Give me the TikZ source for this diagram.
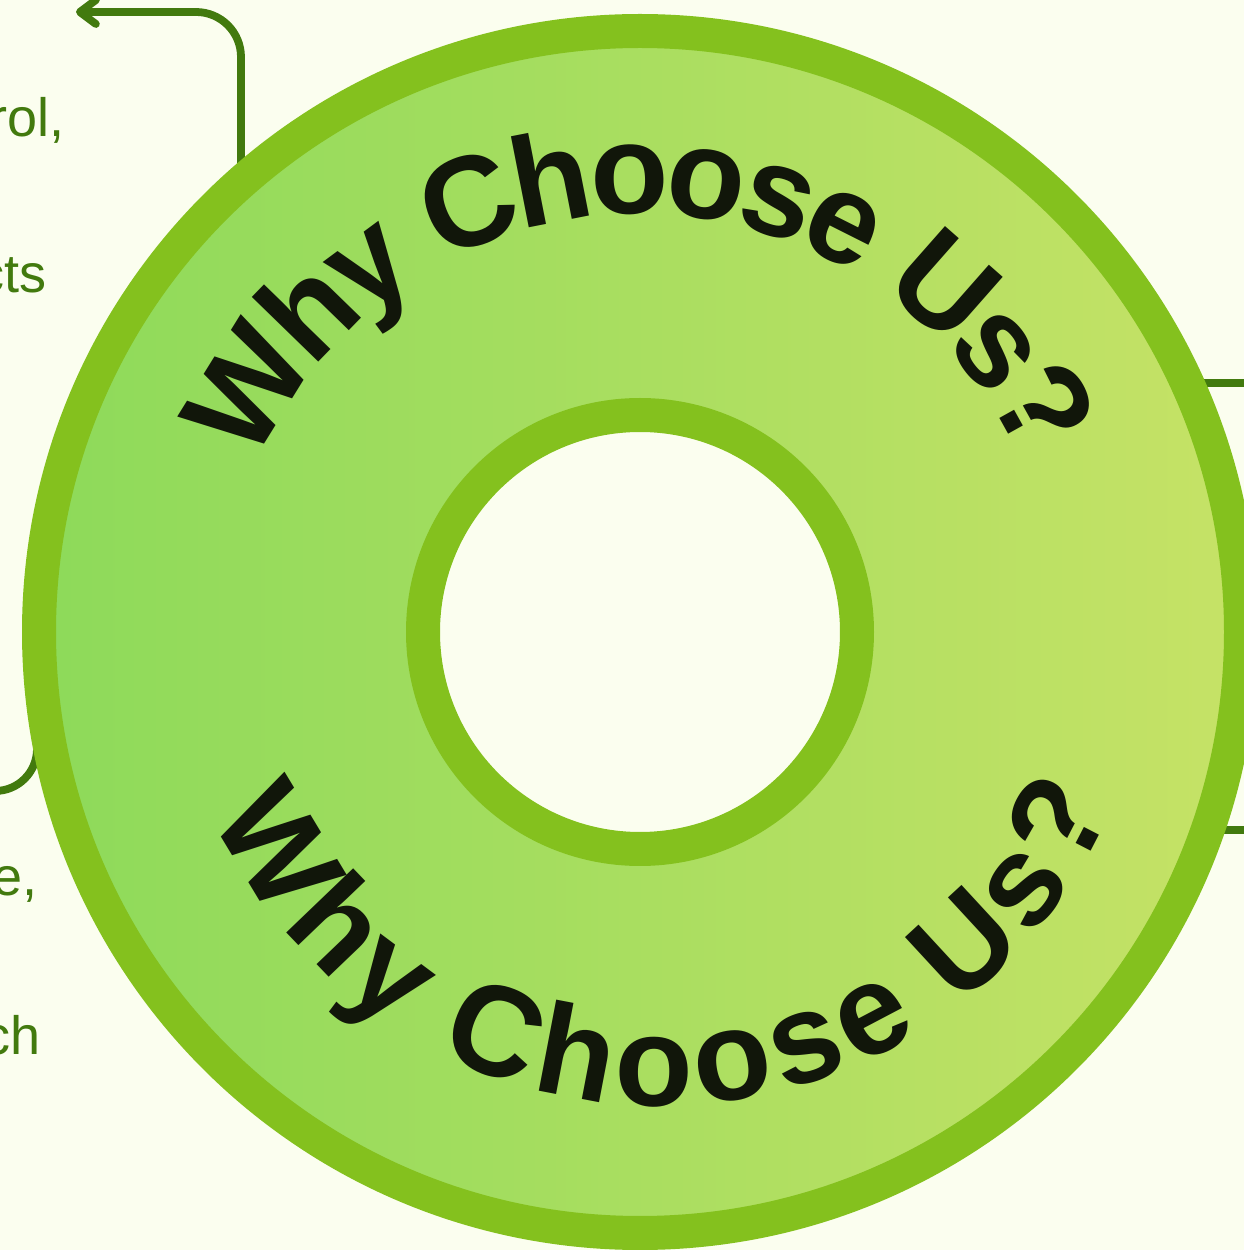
\documentclass[tikz,border=0pt]{standalone}
\usepackage{fontspec}
\setmainfont{Liberation Sans}
\usetikzlibrary{positioning}
\usetikzlibrary{calc}
\usetikzlibrary{arrows.meta}
\usetikzlibrary{decorations.text}
\definecolor{bg}{HTML}{FBFEEF}
\definecolor{ringc}{HTML}{84C11E}
\definecolor{fillL}{HTML}{8DDA5A}
\definecolor{fillR}{HTML}{C6E266}
\definecolor{linkc}{HTML}{427A0E}
\definecolor{ink}{HTML}{11160A}
\tikzset{%
  link/.style = {draw=linkc,line width=3.9pt},
  tip/.style = {-{Straight Barb[length=8pt,width=12pt,round]}},
  frag/.style = {text=linkc,font=\fontsize{27}{33}\selectfont,
        inner sep=0pt,anchor=base east},
  hub/.style = {circle,draw=ringc,line width=17pt,minimum size=601pt,
        inner sep=0pt,left color=fillL,right color=fillR},
  hole/.style = {circle,draw=ringc,fill=bg,line width=17pt,
        minimum size=217pt,inner sep=0pt},
  curved/.style = {decorate,decoration={text along path,
        text align=center,raise=#1,
        text={|\fontsize{64}{64}\selectfont\bfseries\color{ink}|Why Choose Us?}}}
}
\begin{document}
\begin{tikzpicture}[x=0.5pt,y=0.5pt]
    \fill[bg] (0,0) rectangle (1244,1250);
    \useasboundingbox (0,0) rectangle (1244,1250);
    \coordinate (hubc) at (640,618);
    \coordinate (lowc) at (661,634);
    % loose ends of the links
    \coordinate (topend) at (76,1238);
    \coordinate (leftend) at (-80,459);
    \coordinate (rightA) at (1320,867);
    \coordinate (rightB) at (1320,420);
    % text cut by the page edge
    \node[frag] (t1) at (65,1113) {rol,};
    \node[frag] (t2) at (47,957) {cts};
    \node[frag] (t3) at (38,354) {e,};
    \node[frag] (t4) at (41,195) {ch};
    \node[frag] (t5) at (3,131) {.};
    % links
    \draw[link,tip,rounded corners=22.5pt] ($(hubc)+(-399,0)$) |- (topend);
    \draw[link,rounded corners=21pt] ($(hubc)+(-603,0)$) |- (leftend);
    \draw[link] ($(hubc)+(500,249)$) -- (rightA);
    \draw[link] ($(hubc)+(500,-198)$) -- (rightB);
    % ring
    \node[hub] (ring) at (hubc) {};
    \node[hole] (core) at (hubc) {};
    \path[curved=-20pt] ($(hubc)+(175:458)$) arc[start angle=175,end angle=5,radius=458];
    \path[curved=-20.5pt] ($(lowc)+(185.5:449)$) arc[start angle=185.5,end angle=355.5,radius=449];
\end{tikzpicture}
\end{document}
